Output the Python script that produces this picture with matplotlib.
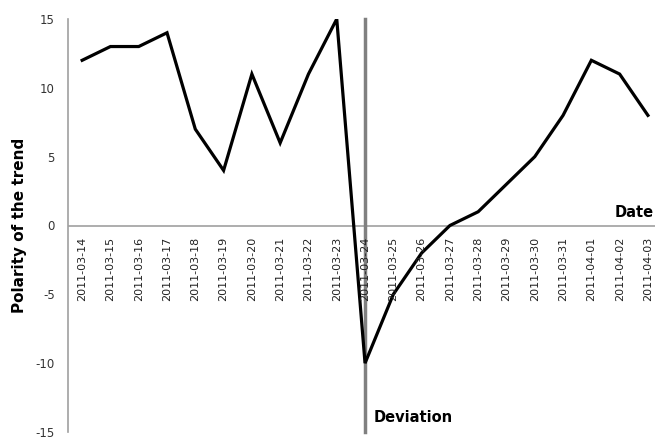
import matplotlib
matplotlib.use("Agg")
import matplotlib.pyplot as plt

dates = ["2011-03-14", "2011-03-15", "2011-03-16", "2011-03-17", "2011-03-18",
         "2011-03-19", "2011-03-20", "2011-03-21", "2011-03-22", "2011-03-23",
         "2011-03-24", "2011-03-25", "2011-03-26", "2011-03-27", "2011-03-28",
         "2011-03-29", "2011-03-30", "2011-03-31", "2011-04-01", "2011-04-02",
         "2011-04-03"]
polarity = [12, 13, 13, 14, 7, 4, 11, 6, 11, 15, -10, -5, -2, 0, 1, 3, 5, 8, 12, 11, 8]
deviation_date = "2011-03-24"
y_ticks = [-15, -10, -5, 0, 5, 10, 15]

plt.rcParams['font.family'] = ['DejaVu Sans']

fig = plt.figure(figsize=(6.56, 4.38), dpi=100)
ax = fig.add_axes([68 / 656, 6 / 438, 587 / 656, 413 / 438])

x = list(range(len(dates)))
ax.plot(x, polarity, color='black', lw=2.3, solid_joinstyle='miter', zorder=3)
dev_idx = dates.index(deviation_date)
ax.axvline(dev_idx, color='#808080', lw=2.5, zorder=2, clip_on=False)

ax.set_xlim(-0.5, 20.25)
ax.set_ylim(-15, 15)

for s in ['top', 'right', 'bottom']:
    ax.spines[s].set_visible(False)
ax.spines['left'].set_color('#a0a0a0')
ax.spines['left'].set_linewidth(1.2)
ax.axhline(0, color='#a0a0a0', lw=1.2, zorder=1)

ax.set_yticks(y_ticks)
ax.set_yticklabels([str(v) for v in y_ticks], fontsize=8.5, color='#333333')
ax.tick_params(axis='y', length=0, pad=9.5)
ax.set_xticks([])

for xi, d in zip(x, dates):
    ax.text(xi, -0.8, d, rotation=90, ha='center', va='top', fontsize=8,
            color='#222222')

ax.set_ylabel('Polarity of the trend', fontsize=11, fontweight='bold')
ax.yaxis.set_label_coords(-0.07, 0.5)
ax.text(20.2, 0.4, 'Date', ha='right', va='bottom', fontsize=10.5, fontweight='bold')
ax.text(dev_idx + 0.3, -13.95, 'Deviation', ha='left', va='center', fontsize=10.5,
        fontweight='bold')

fig.savefig('out.png', dpi=100)
